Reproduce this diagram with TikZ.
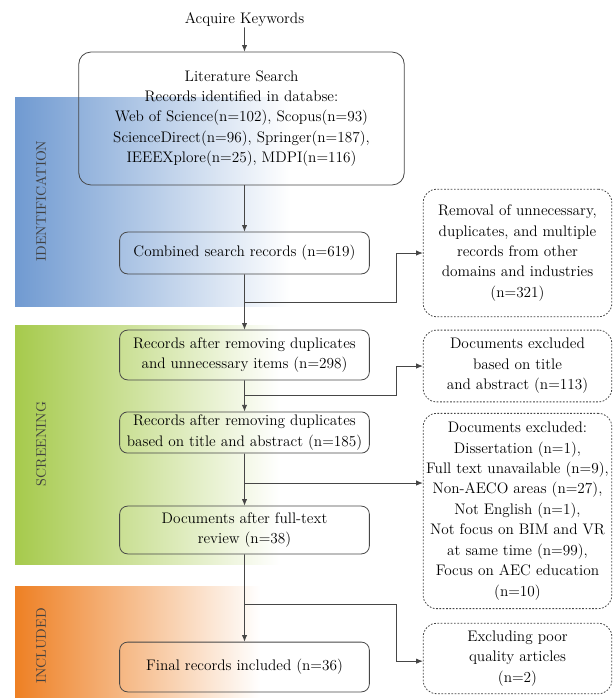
\documentclass[tikz,border=0pt]{standalone}
\usepackage{tikz}
\usetikzlibrary{arrows.meta}
\definecolor{bandblue}{RGB}{112,154,209}
\definecolor{bandgreen}{RGB}{166,202,76}
\definecolor{bandorange}{RGB}{238,128,36}
\definecolor{linegray}{RGB}{70,70,70}
\tikzset{
  font={\fontsize{11.5pt}{15.4pt}\selectfont},
  stepbox/.style={draw=linegray,rounded corners=6pt,align=center,
    minimum width=188pt,line width=0.6pt},
  outbox/.style={draw=linegray,rounded corners=10pt,align=center,
    minimum width=142pt,line width=0.6pt,dash pattern=on 1.3pt off 1.2pt},
  flow/.style={draw=linegray,line width=0.6pt,-{Latex[length=5pt,width=4pt]}},
  phase/.style={rotate=90,text=black!75,font={\fontsize{10.5pt}{12pt}\selectfont}}}
\begin{document}
\begin{tikzpicture}[scale=0.2646]
\tikzstyle{every node}+=[inner sep=0pt]
\useasboundingbox (0,0) rectangle (61.3,-69.8);
\shade [left color=bandblue,right color=white] (1.5,-9.7) rectangle (29,-30.6);
\shade [left color=bandgreen,right color=white] (1.5,-32.5) rectangle (28,-56.4);
\shade [left color=bandorange,right color=white] (1.5,-58.6) rectangle (26,-69.8);
\node [phase] (identlab) at (4.1,-20.1) {IDENTIFICATION};
\node [phase] (screenlab) at (4.1,-44.4) {SCREENING};
\node [phase] (includlab) at (4.1,-64.6) {INCLUDED};
\node (keywords) at (24.45,-2.0) {Acquire Keywords};
\node [stepbox,rounded corners=9pt,minimum width=245pt,minimum height=100pt] (search) at (24.15,-11.85)
  {Literature Search\\Records identified in databse:\\Web of Science(n=102), Scopus(n=93)\\
   ScienceDirect(n=96), Springer(n=187),\\IEEEXplore(n=25), MDPI(n=116)};
\node [stepbox,minimum height=31.5pt] (combined) at (24.45,-25.3) {Combined search records (n=619)};
\node [stepbox,minimum height=37.5pt] (afterdup) at (24.45,-35.5)
  {Records after removing duplicates\\and unnecessary items (n=298)};
\node [stepbox,minimum height=31pt] (aftertitle) at (24.45,-43.25)
  {Records after removing duplicates\\based on title and abstract (n=185)};
\node [stepbox,minimum height=36pt] (fulltext) at (24.45,-53.0)
  {Documents after full-text\\review (n=38)};
\node [stepbox,minimum height=37.5pt] (final) at (24.45,-66.7) {Final records included (n=36)};
\node [outbox,minimum height=96pt] (removal) at (51.75,-25.3)
  {Removal of unnecessary,\\duplicates, and multiple\\records from other\\domains and industries\\(n=321)};
\node [outbox,minimum height=54pt] (exclone) at (51.75,-36.6)
  {Documents excluded\\based on title\\and abstract (n=113)};
\node [outbox,minimum height=147pt] (excltwo) at (51.75,-51.1)
  {Documents excluded:\\Dissertation (n=1),\\Full text unavailable (n=9),\\Non-AECO areas (n=27),\\
   Not English (n=1),\\Not focus on BIM and VR\\at same time (n=99),\\Focus on AEC education\\(n=10)};
\node [outbox,minimum height=53pt] (exclthree) at (51.75,-65.85)
  {Excluding poor\\quality articles\\(n=2)};
\coordinate (b1) at (24.45,-30.2);
\coordinate (k1) at (39.6,-30.2);
\coordinate (b2) at (24.45,-39.5);
\coordinate (k2) at (39.6,-39.5);
\coordinate (b3) at (24.45,-48.3);
\coordinate (b4) at (24.45,-60.4);
\coordinate (k4) at (39.6,-60.4);
\draw [flow] (keywords) -- (keywords |- search.north);
\draw [flow] (combined |- search.south) -- (combined.north);
\draw [flow] (combined) -- (afterdup);
\draw [flow] (afterdup) -- (aftertitle);
\draw [flow] (aftertitle) -- (fulltext);
\draw [flow] (fulltext) -- (final);
\draw [flow] (b1) -- (k1) |- (removal.west);
\draw [flow] (b2) -- (k2) |- (exclone.west);
\draw [flow] (b3) -- (b3 -| excltwo.west);
\draw [flow] (b4) -- (k4) |- ([yshift=-7.5pt]exclthree.west);
\end{tikzpicture}
\end{document}
